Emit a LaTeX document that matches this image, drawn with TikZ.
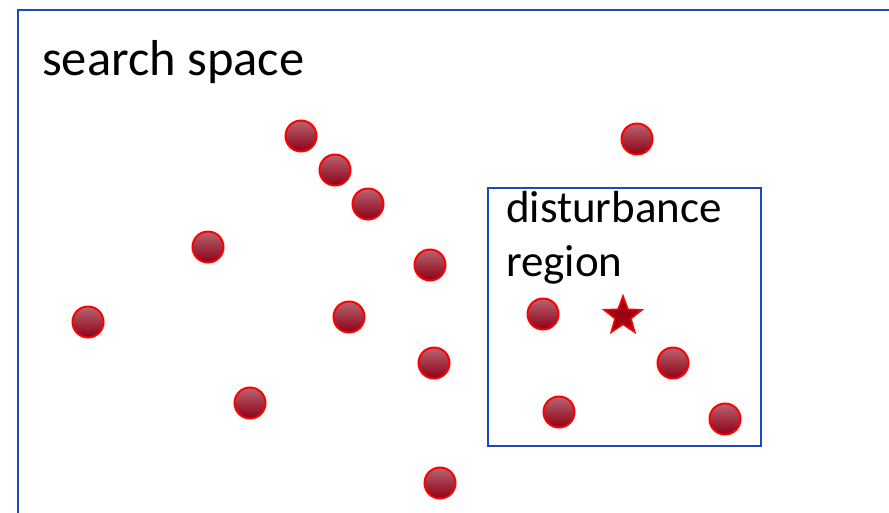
\documentclass[tikz,border=0pt]{standalone}
\usepackage{fontspec}
\setmainfont{Carlito}
\usepackage{xcolor}
\usepackage{tikz}
\usetikzlibrary{shapes.geometric, positioning, backgrounds}

\definecolor{frameblue}{RGB}{30,72,188}
\definecolor{balltop}{RGB}{184,100,112}
\definecolor{ballbot}{RGB}{140,0,22}

\begin{document}
\begin{tikzpicture}[x=1pt, y=-1pt,
  frame/.style={draw=frameblue, line width=2pt},
  label/.style={inner sep=0pt, font=\fontsize{45pt}{54pt}\selectfont, align=left},
  ball/.style={circle, draw=red, line width=2pt, minimum size=31pt, inner sep=0pt, top color=balltop, bottom color=ballbot},
  best/.style={star, star points=5, star point ratio=2.4, draw=red, line width=1.6pt, fill=ballbot!85!red, minimum size=40pt, inner sep=0pt}]
  \useasboundingbox (0,0) rectangle (889,512);
  \begin{scope}
    \clip (0,0) rectangle (889,512);
    \draw[frame] (17.5,10) rectangle (905,530);
  \end{scope}
  \node[label, font=\fontsize{50.5pt}{60pt}\selectfont, anchor=base west] (space) at (42,75) {search space};

  % disturbance region
  \node[frame, minimum width=273pt, minimum height=258pt, anchor=north west] (region) at (486.5,186.5) {};
  \node[label, anchor=north west] (regtxt) at (506,191) {disturbance\\region};

  % samples
  \node[ball] (p1) at (301,136) {};
  \node[ball] (p2) at (335,170) {};
  \node[ball] (p3) at (368,204) {};
  \node[ball] (p4) at (637,139) {};
  \node[ball] (p5) at (208,247) {};
  \node[ball] (p6) at (430,265) {};
  \node[ball] (p7) at (88,322) {};
  \node[ball] (p8) at (349,317) {};
  \node[ball] (p9) at (543,314) {};
  \node[ball] (p10) at (434,363) {};
  \node[ball] (p11) at (250,403) {};
  \node[ball] (p12) at (559,412) {};
  \node[ball] (p13) at (673,363) {};
  \node[ball] (p14) at (725,419) {};
  \node[ball] (p15) at (440,483) {};
  \node[best] (star) at (623,316) {};
\end{tikzpicture}
\end{document}
